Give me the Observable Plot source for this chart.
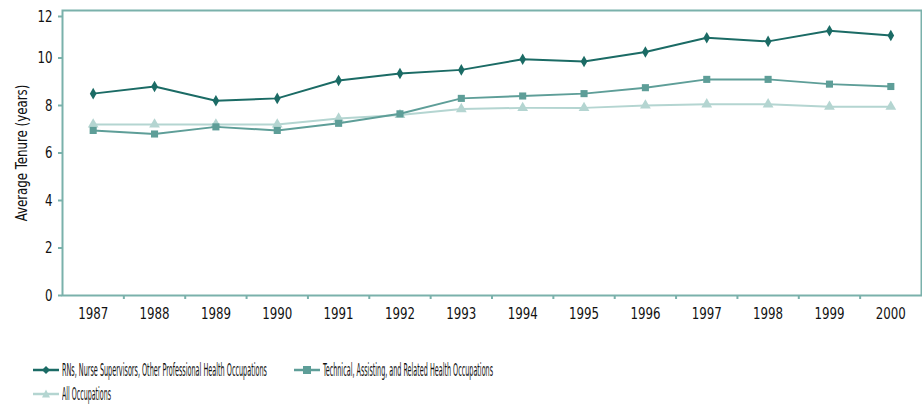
<!DOCTYPE html>
<html>
<head>
<meta charset="utf-8">
<script src="https://cdn.jsdelivr.net/npm/d3@7"></script>
<script src="https://cdn.jsdelivr.net/npm/@observablehq/plot@0.6"></script>
<style>
  body { margin: 0; background: #fff; font-family: "DejaVu Sans", sans-serif; font-stretch: condensed; }
  #chart { width: 922px; height: 406px; position: relative; }
  svg text { font-stretch: condensed; }
  .item { position: absolute; display: flex; align-items: center; white-space: nowrap; font-size: 17px; color: #111; }
  .item span { display: inline-block; transform-origin: 0 50%; }
</style>
</head>
<body>
<div id="chart"></div>
<script>
const years = [1987, 1988, 1989, 1990, 1991, 1992, 1993, 1994, 1995, 1996, 1997, 1998, 1999, 2000];
const rnValues   = [8.5, 8.8, 8.2, 8.3, 9.05, 9.35, 9.5, 9.95, 9.85, 10.25, 10.85, 10.7, 11.15, 10.95];
const techValues = [6.95, 6.8, 7.1, 6.95, 7.25, 7.65, 8.3, 8.4, 8.5, 8.75, 9.1, 9.1, 8.9, 8.8];
const allValues  = [7.2, 7.2, 7.2, 7.2, 7.45, 7.6, 7.85, 7.9, 7.9, 8.0, 8.05, 8.05, 7.95, 7.95];
const seriesNames = [
  "RNs, Nurse Supervisors, Other Professional Health Occupations",
  "Technical, Assisting, and Related Health Occupations",
  "All Occupations"
];
const seriesColors = ["#1b6b65", "#5e9e98", "#b4d5d1"];
const seriesSymbols = ["diamond", "square", "triangle"];
const yTicksLow = [0, 2, 4, 6, 8, 10];
const yTicksTop = [12];
const frameColor = "#7ab1ab";
const font = '"DejaVu Sans", sans-serif';

const allSeries = [rnValues, techValues, allValues];
const data = [];
allSeries.forEach((vals, i) => vals.forEach((v, j) => data.push({series: seriesNames[i], year: years[j], value: v, idx: i})));
const boundaries = years.slice(0, -1).map(y => y + 0.5);

const marks = [Plot.frame({stroke: frameColor, strokeWidth: 2})];
[2, 1, 0].forEach(i => {
  const d = data.filter(r => r.idx === i);
  marks.push(Plot.line(d, {x: "year", y: "value", stroke: seriesColors[i], strokeWidth: 2}));
  marks.push(Plot.dot(d, {x: "year", y: "value", symbol: () => seriesSymbols[i], fill: seriesColors[i], r: i === 0 ? 3.5 : 4}));
});
marks.push(Plot.axisY({ticks: yTicksLow, tickSize: 4, stroke: frameColor, strokeWidth: 2, fill: "#111", tickPadding: 6,
  label: "Average Tenure (years)", labelAnchor: "center", labelArrow: "none", labelOffset: 47}));
marks.push(Plot.axisY({ticks: yTicksTop, tickSize: 4, stroke: frameColor, strokeWidth: 2, fill: "#111", tickPadding: 6, dy: 6, label: null}));
marks.push(Plot.axisX({ticks: boundaries, tickSize: 4, stroke: frameColor, strokeWidth: 2, tickFormat: () => "", label: null}));
marks.push(Plot.axisX({ticks: years, tickSize: 0, tickPadding: 12, tickFormat: d => String(d), fill: "#111", label: null}));

const plot = Plot.plot({
  width: 922,
  height: 322,
  marginTop: 10,
  marginLeft: 62,
  marginRight: 1,
  marginBottom: 27,
  style: {fontFamily: font, fontSize: "16px", background: "#fff", color: "#111"},
  x: {domain: [1986.5, 2000.5]},
  y: {domain: [0, 12]},
  marks
});
const chart = document.getElementById("chart");
chart.appendChild(plot);
// narrow the text horizontally to resemble the condensed face of the original
plot.querySelectorAll("text").forEach(t => {
  const tr = t.getAttribute("transform") || "";
  t.setAttribute("transform", (tr + " scale(0.82,1)").trim());
  if (!tr) {
    const x = +t.getAttribute("x") || 0;
    if (x) t.setAttribute("x", x / 0.82);
  }
});

// legend below the plot
const legendPos = [{left: 33, top: 357, w: 205}, {left: 294, top: 357, w: 170}, {left: 33, top: 381, w: 49}];
const shapes = {
  diamond: '<path d="M13 9 L17 13 L13 17 L9 13 Z"/>',
  square: '<rect x="9" y="9" width="8" height="8"/>',
  triangle: '<path d="M13 8.5 L17 16.5 L9 16.5 Z"/>'
};
seriesNames.forEach((name, i) => {
  const it = document.createElement("div");
  it.className = "item";
  it.style.left = legendPos[i].left + "px";
  it.style.top = legendPos[i].top + "px";
  it.innerHTML = `<svg width="26" height="26" style="margin-right:3px"><line x1="0" x2="26" y1="13" y2="13" stroke="${seriesColors[i]}" stroke-width="2.5"/><g fill="${seriesColors[i]}">${shapes[seriesSymbols[i]]}</g></svg><span>${name}</span>`;
  chart.appendChild(it);
  const span = it.querySelector("span");
  const w = span.getBoundingClientRect().width;
  span.style.transform = `scaleX(${legendPos[i].w / w})`;
});
</script>
</body>
</html>
